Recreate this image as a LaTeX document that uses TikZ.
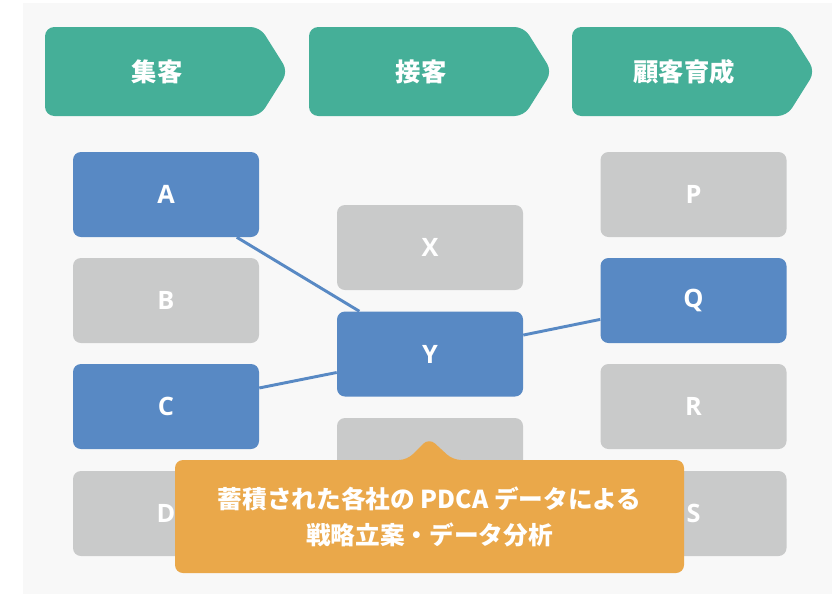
\documentclass[tikz,border=0pt]{standalone}
\usepackage{fontspec}
\setmainfont{Open Sans}
\newfontfamily\jpfont{Noto Sans CJK JP}
\definecolor{panelbg}{HTML}{F8F8F8}
\definecolor{headteal}{HTML}{45AF98}
\definecolor{boxblue}{HTML}{5889C4}
\definecolor{boxgray}{HTML}{C9CACA}
\definecolor{noteorange}{HTML}{EAA84A}
\begin{document}
\begin{tikzpicture}[x=0.75pt,y=-0.75pt,
  basebox/.style={rectangle, rounded corners=6pt, minimum width=139.5pt, minimum height=63.75pt, inner sep=0pt, text=white, font=\fontsize{19}{22}\selectfont\bfseries},
  bluebox/.style={basebox, fill=boxblue},
  graybox/.style={basebox, fill=boxgray},
  link/.style={draw=boxblue, line width=2.2pt},
  headshape/.style={fill=headteal, rounded corners=7pt},
  headtext/.style={text=white, inner sep=0pt, font=\jpfont\fontsize{19}{22}\selectfont\bfseries},
  notetext/.style={text=white, inner sep=0pt, align=center, font=\jpfont\fontsize{18.5}{27}\selectfont\bfseries}
]
\useasboundingbox (0,0) rectangle (838,594);
\fill[white] (0,0) rectangle (838,594);
\fill[panelbg] (23,3) rectangle (832,594);

% header chevrons
\fill[headshape] (45,27) -- (260,27) -- (288,71.5) -- (260,116) -- (45,116) -- cycle;
\node[headtext] (h1) at (157,71.5) {集客};
\fill[headshape] (309,27) -- (524,27) -- (552,71.5) -- (524,116) -- (309,116) -- cycle;
\node[headtext] (h2) at (421,71.5) {接客};
\fill[headshape] (572,27) -- (787,27) -- (815,71.5) -- (787,116) -- (572,116) -- cycle;
\node[headtext] (h3) at (684,71.5) {顧客育成};

% boxes
\node[bluebox] (A) at (166,194.5) {A};
\node[graybox] (B) at (166,300.5) {B};
\node[bluebox] (C) at (166,406.5) {C};
\node[graybox] (D) at (166,513.5) {D};
\node[graybox] (X) at (430,247.5) {X};
\node[bluebox] (Y) at (430,354) {Y};
\node[graybox] (Z) at (430,460.5) {};
\node[graybox] (P) at (693.5,194.5) {P};
\node[bluebox] (Q) at (693.5,300.5) {Q};
\node[graybox] (R) at (693.5,406.5) {R};
\node[graybox] (S) at (693.5,513.5) {S};

% connectors
\draw[link] (A) -- (Y);
\draw[link] (C) -- (Y);
\draw[link] (Y) -- (Q);

% callout
\fill[noteorange, rounded corners=6pt] (175,460) -- (407,460) -- (429,438) -- (453,460) -- (684,460) -- (684,573) -- (175,573) -- cycle;
\node[notetext] (note) at (429.5,516.5) {蓄積された各社の PDCA データによる\\戦略立案・データ分析};
\end{tikzpicture}
\end{document}
